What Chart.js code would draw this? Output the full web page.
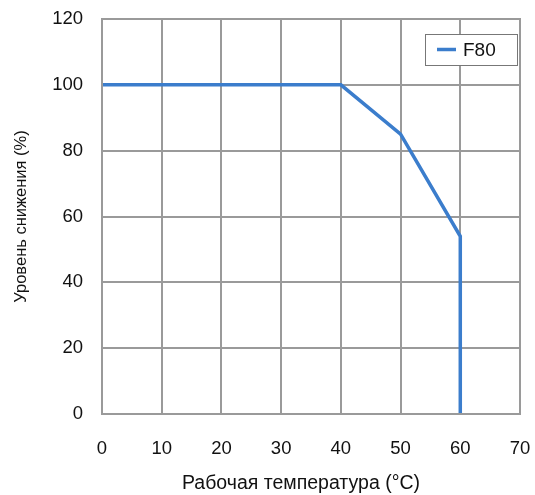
<!DOCTYPE html>
<html>
<head>
<meta charset="utf-8">
<script src="https://cdn.jsdelivr.net/npm/chart.js@4/dist/chart.umd.min.js"></script>
<style>
  html, body { margin: 0; padding: 0; background: #fff; }
  #wrap { width: 535px; height: 495px; }
</style>
</head>
<body>
<div id="wrap"><canvas id="chart" width="535" height="495"></canvas></div>
<script>
// Данные графика
const seriesName = 'F80';
const xTitle = 'Рабочая температура (°C)';
const yTitle = 'Уровень снижения (%)';
const tempX = [0, 40, 50, 60, 60];
const levelY = [100, 100, 85, 54, 0];
const xTicks = [0, 10, 20, 30, 40, 50, 60, 70];
const yTicks = [0, 20, 40, 60, 80, 100, 120];

const lineColor = '#3b7dcc';
const gridColor = '#9a9a9a';
const fontFamily = "'Liberation Sans', Arial, sans-serif";

Chart.defaults.font.family = fontFamily;
Chart.defaults.color = '#111';

// Рамка области графика
const chartAreaBorder = {
  id: 'chartAreaBorder',
  afterDraw(chart) {
    const { ctx, chartArea: { left, top, width, height } } = chart;
    ctx.save();
    ctx.strokeStyle = gridColor;
    ctx.lineWidth = 2;
    ctx.strokeRect(left, top, width, height);
    ctx.restore();
  },
};

// Подпись оси X (немного левее центра, как в оригинале)
const xAxisTitle = {
  id: 'xAxisTitle',
  afterDraw(chart) {
    const { ctx, chartArea: { left, right } } = chart;
    ctx.save();
    ctx.fillStyle = '#111';
    ctx.font = `19.5px ${fontFamily}`;
    ctx.textAlign = 'center';
    ctx.textBaseline = 'middle';
    ctx.fillText(xTitle, (left + right) / 2 - 10, 484);
    ctx.restore();
  },
};

// Легенда внутри области графика
const innerLegend = {
  id: 'innerLegend',
  afterDraw(chart) {
    const { ctx, chartArea: { right, top } } = chart;
    const w = 92;
    const h = 31;
    const x = right - 3 - w;
    const y = top + 15;
    ctx.save();
    ctx.fillStyle = '#fff';
    ctx.fillRect(x, y, w, h);
    ctx.strokeStyle = '#777';
    ctx.lineWidth = 1;
    ctx.strokeRect(x + 0.5, y + 0.5, w, h);
    ctx.strokeStyle = lineColor;
    ctx.lineWidth = 3.5;
    ctx.beginPath();
    ctx.moveTo(x + 12, y + h / 2);
    ctx.lineTo(x + 31, y + h / 2);
    ctx.stroke();
    ctx.fillStyle = '#111';
    ctx.font = `19px ${fontFamily}`;
    ctx.textBaseline = 'middle';
    ctx.fillText(chart.data.datasets[0].label, x + 38, y + h / 2 + 1);
    ctx.restore();
  },
};

const points = tempX.map((x, i) => ({ x, y: levelY[i] }));

new Chart(document.getElementById('chart'), {
  type: 'line',
  data: {
    datasets: [{
      label: seriesName,
      data: points,
      borderColor: lineColor,
      backgroundColor: lineColor,
      borderWidth: 3.5,
      pointRadius: 0,
      tension: 0,
      fill: false,
    }],
  },
  options: {
    responsive: false,
    animation: false,
    layout: { padding: { top: 19, right: 15, left: 0, bottom: 0 } },
    scales: {
      x: {
        type: 'linear',
        min: 0,
        max: 70,
        afterBuildTicks: (axis) => { axis.ticks = xTicks.map((v) => ({ value: v })); },
        afterFit: (axis) => {
          axis.height = 81;
          axis.paddingLeft = 0;
          axis.paddingRight = 0;
        },
        grid: { color: gridColor, lineWidth: 2, drawTicks: false },
        border: { display: false },
        ticks: { font: { size: 18.5 }, padding: 24, color: '#111', maxRotation: 0 },
        title: { display: false },
      },
      y: {
        min: 0,
        max: 120,
        afterBuildTicks: (axis) => { axis.ticks = yTicks.map((v) => ({ value: v })); },
        afterFit: (axis) => {
          axis.width = 102;
          axis.paddingTop = 0;
          axis.paddingBottom = 0;
        },
        grid: { color: gridColor, lineWidth: 2, drawTicks: false },
        border: { display: false },
        ticks: { font: { size: 18.5 }, padding: 19, color: '#111' },
        title: {
          display: true,
          text: yTitle,
          font: { size: 16.5 },
          color: '#111',
          padding: { top: 11.5, bottom: 0 },
        },
      },
    },
    plugins: {
      legend: { display: false },
      tooltip: { enabled: false },
    },
  },
  plugins: [chartAreaBorder, xAxisTitle, innerLegend],
});
</script>
</body>
</html>
